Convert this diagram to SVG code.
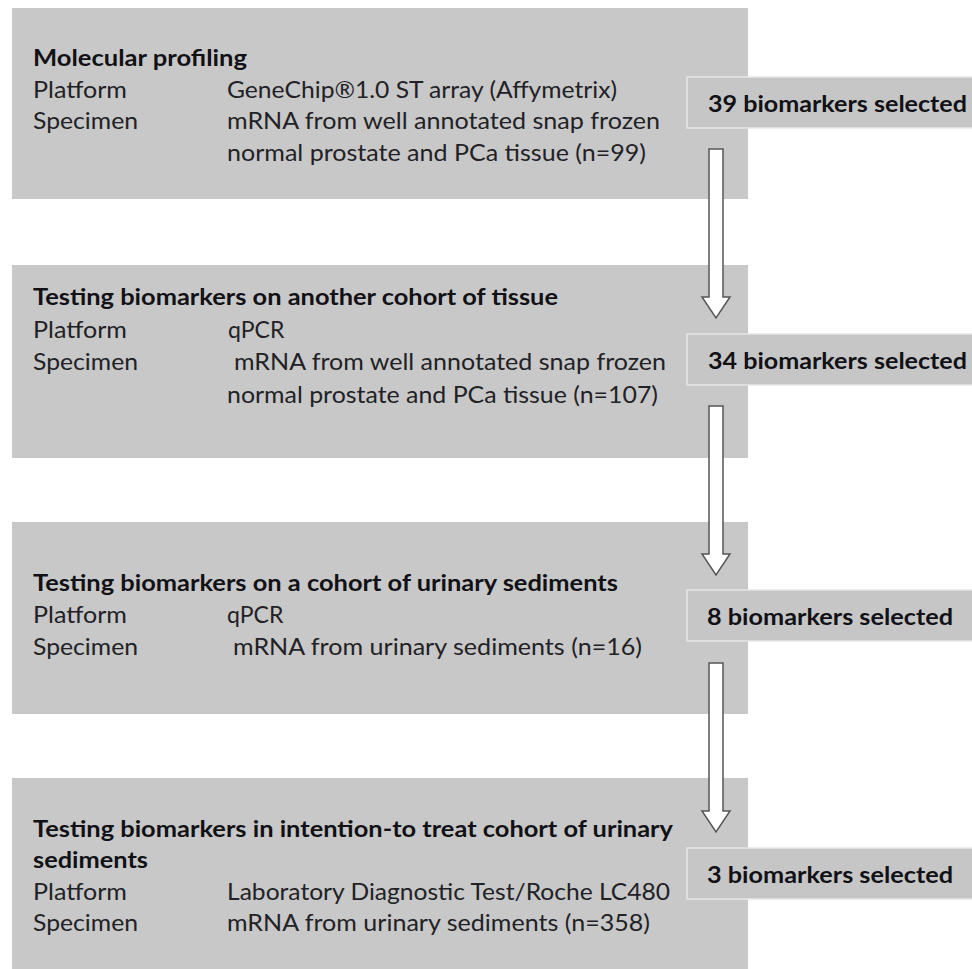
<svg xmlns="http://www.w3.org/2000/svg" width="972" height="969" viewBox="0 0 972 969">
<style>
  .box { fill: #c8c8c8; }
  .lab { fill: #c6c6c6; stroke: #e6e6e6; stroke-width: 1.5; }
  text { font-family: Lato, "Open Sans", "Liberation Sans", sans-serif; font-size: 23px; fill: #222226; }
  .b { font-weight: bold; fill: #111116; }
  .arrow { fill: #ffffff; stroke: #555555; stroke-width: 1.5; stroke-linejoin: miter; }
</style>
<rect width="972" height="969" fill="#ffffff"/>

<g id="step1">
  <rect class="box" x="12" y="8" width="736" height="191"/>
  <text class="b" x="33" y="66" textLength="214" lengthAdjust="spacingAndGlyphs">Molecular profiling</text>
  <text x="33" y="98" textLength="94" lengthAdjust="spacingAndGlyphs">Platform</text>
  <text x="227" y="98" textLength="390" lengthAdjust="spacingAndGlyphs">GeneChip®1.0 ST array (Affymetrix)</text>
  <text x="33" y="129" textLength="105" lengthAdjust="spacingAndGlyphs">Specimen</text>
  <text x="227" y="129" textLength="433" lengthAdjust="spacingAndGlyphs">mRNA from well annotated snap frozen</text>
  <text x="227" y="161" textLength="419" lengthAdjust="spacingAndGlyphs">normal prostate and PCa tissue (n=99)</text>
</g>

<g id="step2">
  <rect class="box" x="12" y="265" width="736" height="193"/>
  <text class="b" x="33" y="305" textLength="525" lengthAdjust="spacingAndGlyphs">Testing biomarkers on another cohort of tissue</text>
  <text x="33" y="338" textLength="94" lengthAdjust="spacingAndGlyphs">Platform</text>
  <text x="228" y="338">qPCR</text>
  <text x="33" y="370" textLength="105" lengthAdjust="spacingAndGlyphs">Specimen</text>
  <text x="234" y="370" textLength="432" lengthAdjust="spacingAndGlyphs">mRNA from well annotated snap frozen</text>
  <text x="227" y="403" textLength="431" lengthAdjust="spacingAndGlyphs">normal prostate and PCa tissue (n=107)</text>
</g>

<g id="step3">
  <rect class="box" x="12" y="522" width="736" height="192"/>
  <text class="b" x="33" y="591" textLength="585" lengthAdjust="spacingAndGlyphs">Testing biomarkers on a cohort of urinary sediments</text>
  <text x="33" y="623" textLength="94" lengthAdjust="spacingAndGlyphs">Platform</text>
  <text x="227" y="623">qPCR</text>
  <text x="33" y="655" textLength="105" lengthAdjust="spacingAndGlyphs">Specimen</text>
  <text x="233" y="655" textLength="409" lengthAdjust="spacingAndGlyphs">mRNA from urinary sediments (n=16)</text>
</g>

<g id="step4">
  <rect class="box" x="12" y="778" width="736" height="191"/>
  <text class="b" x="33" y="837" textLength="640" lengthAdjust="spacingAndGlyphs">Testing biomarkers in intention-to treat cohort of urinary</text>
  <text class="b" x="33" y="868" textLength="115" lengthAdjust="spacingAndGlyphs">sediments</text>
  <text x="33" y="900" textLength="94" lengthAdjust="spacingAndGlyphs">Platform</text>
  <text x="227" y="900" textLength="443" lengthAdjust="spacingAndGlyphs">Laboratory Diagnostic Test/Roche LC480</text>
  <text x="33" y="931" textLength="105" lengthAdjust="spacingAndGlyphs">Specimen</text>
  <text x="227" y="931" textLength="423" lengthAdjust="spacingAndGlyphs">mRNA from urinary sediments (n=358)</text>
</g>

<g id="result1">
  <rect class="lab" x="687" y="77" width="300" height="51"/>
  <text class="b" x="708" y="112" textLength="259" lengthAdjust="spacingAndGlyphs">39 biomarkers selected</text>
</g>
<g id="result2">
  <rect class="lab" x="687" y="334" width="300" height="51"/>
  <text class="b" x="708" y="369" textLength="259" lengthAdjust="spacingAndGlyphs">34 biomarkers selected</text>
</g>
<g id="result3">
  <rect class="lab" x="687" y="590" width="300" height="51"/>
  <text class="b" x="707" y="625" textLength="246" lengthAdjust="spacingAndGlyphs">8 biomarkers selected</text>
</g>
<g id="result4">
  <rect class="lab" x="687" y="848" width="300" height="51"/>
  <text class="b" x="707" y="883" textLength="246" lengthAdjust="spacingAndGlyphs">3 biomarkers selected</text>
</g>

<g id="connectors">
  <polygon class="arrow" points="709,149 723,149 723,297 730,297 716,318 702,297 709,297"/>
  <polygon class="arrow" points="709,406 723,406 723,554 730,554 716,575 702,554 709,554"/>
  <polygon class="arrow" points="709,663 723,663 723,811 730,811 716,832 702,811 709,811"/>
</g>
</svg>
